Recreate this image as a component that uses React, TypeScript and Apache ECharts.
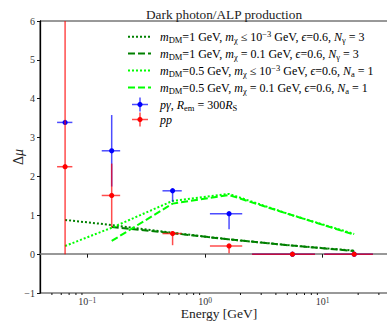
import React, { useEffect, useRef } from "react";
import * as echarts from "echarts";

// Energy bins (GeV): centres and edges
const energy = [0.0647, 0.161, 0.53, 1.6, 5.53, 18.5];
const binLow = [0.0553, 0.1325, 0.435, 1.1, 2.51, 10.3];
const binHigh = [0.0746, 0.19, 0.634, 2.07, 8.6, 26.7];

// Measured Δμ for the two production channels with asymmetric errors
const pGamma = [3.39, 2.66, 1.63, 1.04, 0, 0];
const pGammaErrDown = [0, 0.92, 0.28, 0.4, 0, 0];
const pGammaErrUp = [0, 0.92, 0.07, 0, 0, 0];

const pp = [2.25, 1.51, 0.53, 0.21, 0, 0];
const ppErrDown = [2.25, 0.82, 0.3, 0.19, 0, 0];
const ppErrUp = [5, 0.82, 0.05, 0, 0, 0];

// Model predictions evaluated at the bin centres
const dm1Light = [0.88, 0.75, 0.55, 0.38, 0.22, 0.09];
const dm1Heavy = [null, 0.7, 0.54, 0.38, 0.22, 0.08];
const dm05Light = [0.21, 0.68, 1.37, 1.55, 1.0, 0.52];
const dm05Heavy = [null, 0.34, 1.3, 1.52, 1.0, 0.5];

// Minor tick positions of the log energy axis
const minorTicks = [
  0.05, 0.06, 0.07, 0.08, 0.09,
  0.2, 0.3, 0.4, 0.5, 0.6, 0.7, 0.8, 0.9,
  2, 3, 4, 5, 6, 7, 8, 9,
  20, 30, 40,
];

const seriesNames = [
  "mDM=1 GeV, mχ≤1e-3 GeV",
  "mDM=1 GeV, mχ=0.1 GeV",
  "mDM=0.5 GeV, mχ≤1e-3 GeV",
  "mDM=0.5 GeV, mχ=0.1 GeV",
  "pγ, Rem=300RS",
  "pp",
];

const legendLabels = [
  "{i|m}{s|DM}{r|=1 GeV, }{i|m}{s|χ}{r| ≤ 10}{p|−3}{r| GeV, }{i|ϵ}{r|=0.6, }{i|N}{s|γ}{r| = 3}",
  "{i|m}{s|DM}{r|=1 GeV, }{i|m}{s|χ}{r| = 0.1 GeV, }{i|ϵ}{r|=0.6, }{i|N}{s|γ}{r| = 3}",
  "{i|m}{s|DM}{r|=0.5 GeV, }{i|m}{s|χ}{r| ≤ 10}{p|−3}{r| GeV, }{i|ϵ}{r|=0.6, }{i|N}{s|a}{r| = 1}",
  "{i|m}{s|DM}{r|=0.5 GeV, }{i|m}{s|χ}{r| = 0.1 GeV, }{i|ϵ}{r|=0.6, }{i|N}{s|a}{r| = 1}",
  "{i|pγ}{r|, }{i|R}{s|em}{r| = 300}{i|R}{s|S}",
  "{i|pp}",
];

const FONT = "'Liberation Serif', 'DejaVu Serif', serif";
const DARK = "#008000";
const LIME = "#00ff00";
const DOTTED = [2, 2];
const DASHED = [7, 3];

const lineStyles = [
  { color: DARK, type: DOTTED },
  { color: DARK, type: DASHED },
  { color: LIME, type: DOTTED },
  { color: LIME, type: DASHED },
];

const pointSets = [
  { values: pGamma, down: pGammaErrDown, up: pGammaErrUp, marker: "#0000ff", bar: "rgba(0,0,255,0.7)" },
  { values: pp, down: ppErrDown, up: ppErrUp, marker: "#ff0000", bar: "rgba(255,0,0,0.7)" },
];

const rich = {
  r: { fontFamily: FONT, fontSize: 12, color: "#222", lineHeight: 15, verticalAlign: "middle" },
  i: { fontFamily: FONT, fontSize: 12, fontStyle: "italic", color: "#222", lineHeight: 15, verticalAlign: "middle" },
  s: { fontFamily: FONT, fontSize: 8.5, color: "#222", lineHeight: 15, verticalAlign: "bottom" },
  p: { fontFamily: FONT, fontSize: 8.5, color: "#222", lineHeight: 15, verticalAlign: "top" },
};

function buildLegend() {
  const rowsY = [36.7, 53.5, 70.5, 87.5, 104.5, 119.5];
  const x0 = 128;
  const x1 = 151;
  const children: any[] = [];
  rowsY.forEach((y, k) => {
    if (k < 4) {
      const ls = lineStyles[k];
      children.push({
        type: "line",
        shape: { x1: x0, y1: y, x2: x1, y2: y },
        style: { stroke: ls.color, lineWidth: 2, lineDash: ls.type },
      });
    } else {
      const ps = pointSets[k - 4];
      const cx = (x0 + x1) / 2 + 0.5;
      children.push(
        { type: "line", shape: { x1: cx - 8, y1: y, x2: cx + 8, y2: y }, style: { stroke: ps.bar, lineWidth: 1.5 } },
        { type: "line", shape: { x1: cx, y1: y - 7, x2: cx, y2: y + 7 }, style: { stroke: ps.bar, lineWidth: 1.5 } },
        { type: "circle", shape: { cx, cy: y, r: 2.6 }, style: { fill: ps.marker } }
      );
    }
    children.push({
      type: "text",
      x: 160,
      y,
      style: { text: legendLabels[k], rich, verticalAlign: "middle", align: "left" },
    });
  });
  return { type: "group", children };
}

function errorBarSeries(idx: number) {
  const ps = pointSets[idx];
  const data = energy.map((e, i) => [
    e,
    ps.values[i],
    binLow[i],
    binHigh[i],
    ps.values[i] - ps.down[i],
    ps.values[i] + ps.up[i],
  ]);
  return {
    type: "custom",
    name: seriesNames[4 + idx],
    clip: true,
    z: 5 + idx,
    data,
    encode: { x: 0, y: 1 },
    renderItem: (_params: any, api: any) => {
      const x = api.value(0);
      const y = api.value(1);
      const c = api.coord([x, y]);
      const l = api.coord([api.value(2), y]);
      const r = api.coord([api.value(3), y]);
      const b = api.coord([x, api.value(4)]);
      const t = api.coord([x, api.value(5)]);
      return {
        type: "group",
        children: [
          { type: "line", shape: { x1: l[0], y1: c[1], x2: r[0], y2: c[1] }, style: { stroke: ps.bar, lineWidth: 1.5 } },
          { type: "line", shape: { x1: c[0], y1: b[1], x2: c[0], y2: t[1] }, style: { stroke: ps.bar, lineWidth: 1.5 } },
          { type: "circle", shape: { cx: c[0], cy: c[1], r: 2.6 }, style: { fill: ps.marker } },
        ],
      };
    },
  };
}

export default function App() {
  const ref = useRef<HTMLDivElement>(null);

  useEffect(() => {
    if (!ref.current) return;
    const chart = echarts.init(ref.current, null, { renderer: "svg" });

    const modelSeries = [dm1Light, dm1Heavy, dm05Light, dm05Heavy].map((vals, k) => ({
      type: "line",
      name: seriesNames[k],
      data: energy.map((e, i) => (vals[i] == null ? null : [e, vals[i]])).filter((d) => d !== null),
      symbol: "none",
      z: 2 + k * 0.1,
      lineStyle: { color: lineStyles[k].color, type: lineStyles[k].type, width: 2 },
    }));

    const minorTickSeries = {
      type: "custom",
      name: "minor",
      silent: true,
      clip: false,
      z: 10,
      data: minorTicks.map((v) => [v, -1]),
      encode: { x: 0, y: 1 },
      renderItem: (_p: any, api: any) => {
        const p = api.coord([api.value(0), api.value(1)]);
        return {
          type: "line",
          shape: { x1: p[0], y1: p[1], x2: p[0], y2: p[1] + 2 },
          style: { stroke: "#111", lineWidth: 1 },
        };
      },
    };

    chart.setOption({
      animation: false,
      backgroundColor: "#fff",
      title: {
        text: "Dark photon/ALP production",
        left: 219,
        top: 3,
        textAlign: "center",
        textStyle: { fontFamily: FONT, fontWeight: "normal", fontSize: 13.3, color: "#222" },
      },
      grid: {
        left: 40,
        top: 21,
        width: 358,
        height: 272,
        outerBoundsMode: "none",
        containLabel: false,
        show: true,
        borderColor: "#333",
        borderWidth: 1,
        backgroundColor: "transparent",
      },
      xAxis: {
        type: "log",
        logBase: 10,
        min: 0.0396,
        max: 43.6,
        name: "Energy [GeV]",
        nameLocation: "middle",
        nameGap: 13,
        nameMoveOverlap: false,
        nameTextStyle: { fontFamily: FONT, fontSize: 13.5, lineHeight: 14, color: "#222", verticalAlign: "top" },
        axisLine: { show: true, lineStyle: { color: "#777", width: 1.5 } },
        axisTick: { show: true, length: 3.5, lineStyle: { color: "#111" } },
        splitLine: { show: false },
        axisLabel: {
          showMinLabel: false,
          showMaxLabel: false,
          margin: 3,
          formatter: (v: number) => {
            const e = Math.round(Math.log10(v));
            return `{b|10}{p|${e < 0 ? "−" + -e : e}}`;
          },
          rich: {
            b: { fontFamily: FONT, fontSize: 10, color: "#333", lineHeight: 10, verticalAlign: "bottom" },
            p: { fontFamily: FONT, fontSize: 7.5, color: "#333", lineHeight: 10, verticalAlign: "top" },
          },
        },
      },
      yAxis: {
        type: "value",
        min: -1,
        max: 6,
        interval: 1,
        name: "{a|Δ}{b|μ}",
        nameLocation: "middle",
        nameGap: 15,
        nameRotate: 90,
        nameMoveOverlap: false,
        nameTextStyle: {
          fontFamily: FONT,
          fontSize: 14,
          color: "#222",
          rich: {
            a: { fontFamily: FONT, fontSize: 14, color: "#222" },
            b: { fontFamily: FONT, fontSize: 14, color: "#222", fontStyle: "italic" },
          },
        },
        axisLine: { show: true, lineStyle: { color: "#000", width: 1.3 } },
        axisTick: { show: true, length: 3, lineStyle: { color: "#111" } },
        splitLine: { show: false },
        axisLabel: {
          fontFamily: FONT,
          fontSize: 10,
          color: "#333",
          margin: 5,
          formatter: (v: number) => (v < 0 ? "−" + -v : String(v)),
        },
      },
      graphic: [buildLegend()],
      series: [...modelSeries, errorBarSeries(0), errorBarSeries(1), minorTickSeries],
    });

    return () => chart.dispose();
  }, []);

  return (
    <div
      ref={ref}
      style={{ position: "fixed", left: 0, top: 0, width: 387, height: 321, overflow: "hidden" }}
    />
  );
}
